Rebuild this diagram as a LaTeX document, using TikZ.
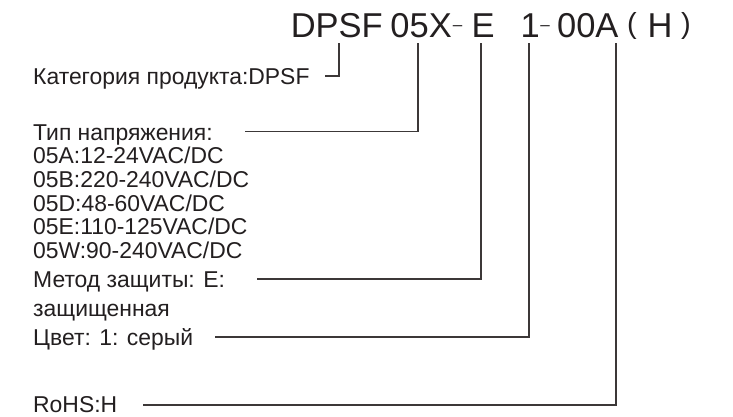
\documentclass[tikz,border=0pt]{standalone}
\usepackage{fontspec}
\setmainfont{Liberation Sans}
\definecolor{txt}{RGB}{35,31,32}
\definecolor{ln}{RGB}{60,56,56}
\begin{document}
\begin{tikzpicture}[x=1pt,y=-1pt,
  lbl/.style={inner sep=0pt, anchor=base west, text=txt, font=\fontsize{22.9}{24}\selectfont},
  ttl/.style={inner sep=0pt, text=txt, font=\fontsize{34.5}{36}\selectfont},
  ttldash/.style={inner sep=0pt, text=txt, anchor=base, font=\fontsize{17}{18}\selectfont},
  ttlpar/.style={inner sep=0pt, text=txt, anchor=base, font=\fontsize{29}{30}\selectfont},
  conn/.style={draw=ln, line width=1.6pt}]
\useasboundingbox[fill=white] (0,0) rectangle (733,416);
% title
\node[ttl, anchor=base west] (tDPSF) at (290.6,37.8) {DPSF};
\node[ttl, anchor=base west] (t05X) at (390.2,37.8) {05X};
\node[ttldash] (tdashA) at (457.5,30.2) {–};
\node[ttl, anchor=base west] (tE) at (471.3,37.8) {E};
\node[ttl, anchor=base] (tone) at (530.3,37.8) {1};
\node[ttldash] (tdashB) at (545,30.2) {–};
\node[ttl, anchor=base west] (t00A) at (556.9,37.8) {00A};
\node[ttlpar] (tlp) at (632,33.2) {(};
\node[ttl, anchor=base] (tH) at (660,37.8) {H};
\node[ttlpar] (trp) at (686,33.2) {)};
% labels
\node[lbl] (lcat) at (33,84.2) {Категория продукта:DPSF};
\node[lbl] (ltype) at (33,140) {Тип напряжения:};
\node[lbl] (lA) at (33,163.8) {05A:12-24VAC/DC};
\node[lbl] (lB) at (33,187.4) {05B:220-240VAC/DC};
\node[lbl] (lD) at (33,211) {05D:48-60VAC/DC};
\node[lbl] (lE) at (33,234.6) {05E:110-125VAC/DC};
\node[lbl] (lW) at (33,258.2) {05W:90-240VAC/DC};
\node[lbl] (lprot) at (33,287.2) {Метод защиты: E:};
\node[lbl] (lprotb) at (33,316.5) {защищенная};
\node[lbl] (lcol) at (33,345.2) {Цвет: 1: серый};
\node[lbl] (lrohs) at (33,412.5) {RoHS:H};
% connectors
\coordinate (t1) at (339,43); \coordinate (s1) at (325,76);
\coordinate (t2) at (418,43); \coordinate (s2) at (245,131.5);
\coordinate (t3) at (481,43); \coordinate (s3) at (257,279);
\coordinate (t4) at (529,43); \coordinate (s4) at (215,337);
\coordinate (t5) at (616,43); \coordinate (s5) at (143,405);
\draw[conn] (s1) -| (t1);
\draw[conn] (s2) -| (t2);
\draw[conn] (s3) -| (t3);
\draw[conn] (s4) -| (t4);
\draw[conn] (s5) -| (t5);
\end{tikzpicture}
\end{document}
